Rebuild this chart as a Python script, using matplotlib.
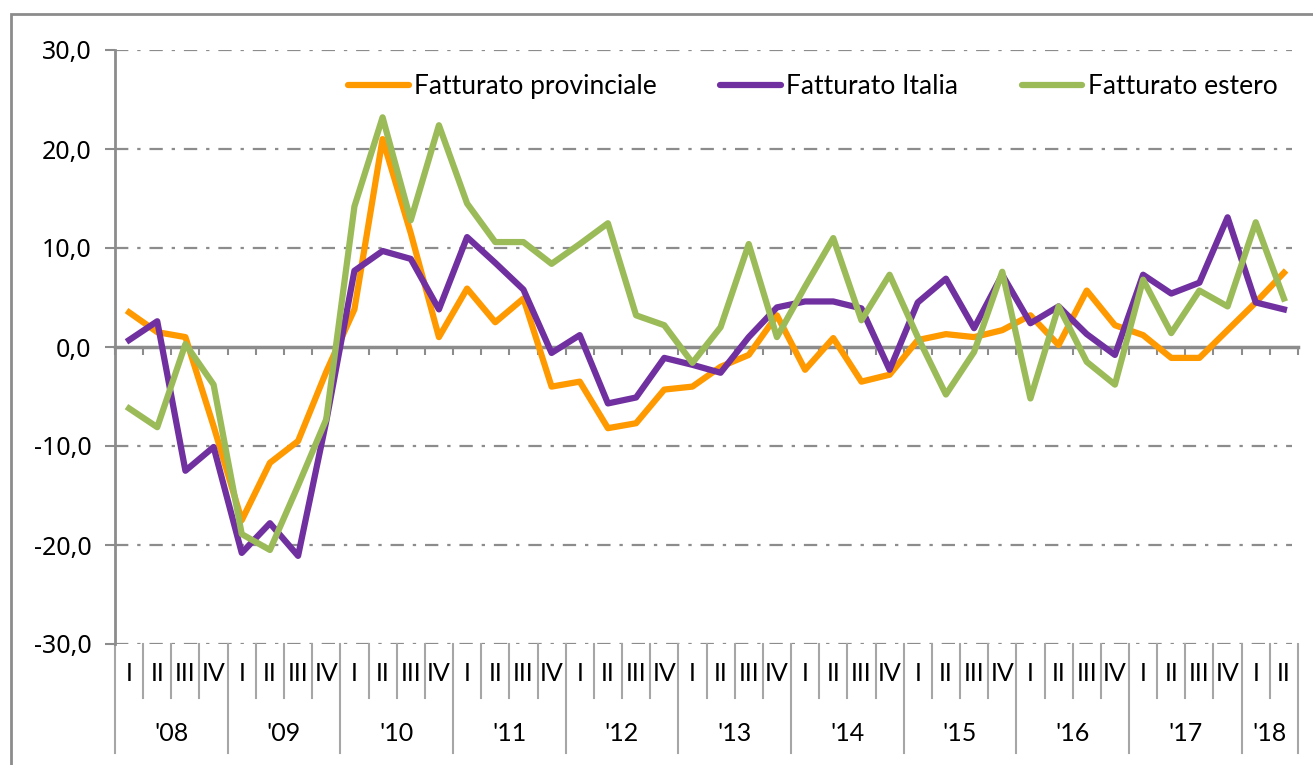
import numpy as np
import matplotlib.pyplot as plt
from matplotlib.patches import Rectangle
from matplotlib.ticker import FuncFormatter, MultipleLocator
import matplotlib.transforms as mtransforms

# quarterly data 2008 Q1 - 2018 Q2
years = ["'08", "'09", "'10", "'11", "'12", "'13", "'14", "'15", "'16", "'17", "'18"]
quarters = ['I', 'II', 'III', 'IV']
prov = [3.5, 1.5, 1.0, -8.0, -17.5, -11.7, -9.5, -2.5, 3.8, 21.0, 11.5, 1.0,
        5.9, 2.5, 4.9, -4.0, -3.5, -8.2, -7.7, -4.3, -4.0, -2.0, -0.8, 3.2,
        -2.3, 0.9, -3.5, -2.8, 0.7, 1.3, 1.0, 1.7, 3.2, 0.2, 5.7, 2.2,
        1.2, -1.1, -1.1, 1.7, 4.5, 7.5]
italia = [0.7, 2.6, -12.5, -10.1, -20.8, -17.8, -21.1, -7.5, 7.7, 9.7, 8.9, 3.8,
          11.1, 8.5, 5.8, -0.6, 1.2, -5.7, -5.1, -1.1, -1.8, -2.6, 1.0, 4.0,
          4.6, 4.6, 3.9, -2.3, 4.5, 6.9, 1.9, 7.3, 2.4, 4.1, 1.3, -0.8,
          7.3, 5.4, 6.5, 13.1, 4.5, 3.8]
estero = [-6.2, -8.1, 0.3, -3.8, -18.9, -20.5, -14.0, -7.3, 14.2, 23.2, 12.8, 22.4,
          14.5, 10.6, 10.6, 8.4, 10.4, 12.5, 3.2, 2.2, -1.6, 2.0, 10.4, 1.0,
          6.1, 11.0, 2.7, 7.3, 1.0, -4.8, -0.5, 7.6, -5.2, 4.1, -1.5, -3.8,
          6.8, 1.4, 5.7, 4.1, 12.6, 4.9]

n = len(prov)
x = np.arange(n)
grey = '#8c8c8c'
lblfont = ['Lato', 'DejaVu Sans']
tickfont = ['Noto Sans', 'DejaVu Sans']

fig = plt.figure(figsize=(13.13, 7.65), dpi=100)
ax = fig.add_axes([115/1313, 1-644/765, (1298-115)/1313, (644-50)/765])

# outer frame
fig.patches.append(Rectangle((11/1313, -0.05), 1.1, 1-14/765+0.05, transform=fig.transFigure,
                             fill=False, ec=grey, lw=2))

for yv in [30, 20, 10, -10, -20, -30]:
    ax.plot([-0.5, 41.3], [yv, yv], color=grey, lw=1.6, ls=(0, (6, 4, 1.5, 4)), zorder=1)

ax.plot(x, prov, color='#ff9900', lw=4.5, label='Fatturato provinciale', solid_joinstyle='round', zorder=3)
ax.plot(x, italia, color='#7030a0', lw=4.5, label='Fatturato Italia', solid_joinstyle='round', zorder=3)
ax.plot(x, estero, color='#9bbb59', lw=4.5, label='Fatturato estero', solid_joinstyle='round', zorder=3)

ax.set_xlim(-0.5, n - 0.5)
ax.set_ylim(-30, 30)
ax.yaxis.set_major_locator(MultipleLocator(10))
ax.yaxis.set_major_formatter(FuncFormatter(lambda v, p: ('%.1f' % v).replace('.', ',')))
ax.tick_params(axis='y', length=7, width=1.5, color=grey, pad=10, labelsize=18)
for t in ax.get_yticklabels():
    t.set_family(tickfont)

for s in ['top', 'right']:
    ax.spines[s].set_visible(False)
ax.spines['left'].set_color(grey)
ax.spines['left'].set_linewidth(2)
ax.spines['bottom'].set_position(('data', 0))
ax.spines['bottom'].set_color(grey)
ax.spines['bottom'].set_linewidth(2.5)
ax.set_xticks(np.arange(-0.5, n, 1.0))
ax.set_xticklabels([])
ax.tick_params(axis='x', direction='out', length=6, width=1.5, color=grey)

# multi-level category labels
tr = mtransforms.blended_transform_factory(ax.transData, ax.transAxes)
for i in range(n):
    ax.text(x[i], -0.049, quarters[i % 4], transform=tr, ha='center', va='center',
            fontsize=18, family=lblfont)
for k in range(n + 1):
    bottom = -0.184 if (k % 4 == 0 or k == n) else -0.091
    ax.plot([k - 0.5, k - 0.5], [0, bottom], transform=tr, color='#a6a6a6', lw=1.5, clip_on=False)
for j, yl in enumerate(years):
    qs = x[4*j:4*j+4]
    ax.text(qs.mean(), -0.15, yl, transform=tr, ha='center', va='center',
            fontsize=18, family=lblfont)

leg = ax.legend(loc='center', bbox_to_anchor=(0.59, 0.938), ncol=3, frameon=False,
                handlelength=2.3, handletextpad=0.2, columnspacing=2.4,
                prop={'family': lblfont, 'size': 19})
for h in leg.get_lines():
    h.set_solid_capstyle('round')

fig.savefig('out.png', dpi=100)
